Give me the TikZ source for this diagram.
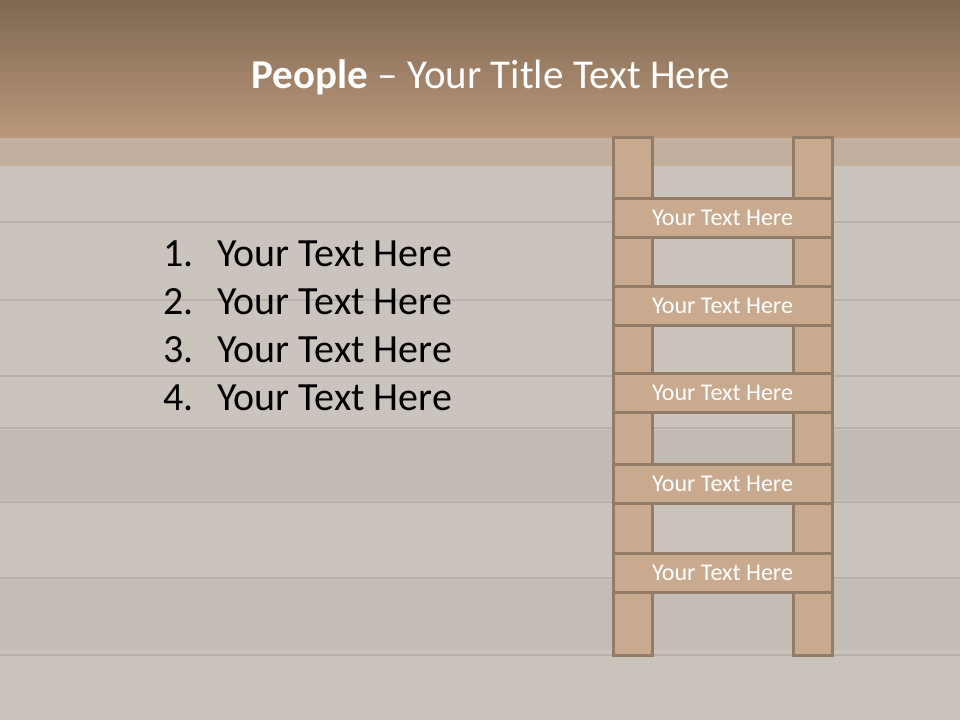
\documentclass[tikz,border=0pt]{standalone}
\usepackage{fontspec}
\setmainfont{Carlito}
\begin{document}
\begin{tikzpicture}[x=1pt,y=-1pt,
  rail/.style={fill=rungfill,draw=rungline,line width=3pt},
  rung/.style={fill=rungfill,draw=rungline,line width=3pt,minimum width=219pt,minimum height=39pt,inner sep=0pt,outer sep=0pt,anchor=north west,text=white,font=\fontsize{24}{28}\selectfont},
  item/.style={anchor=base west,font=\fontsize{40}{46}\selectfont,text=black,inner sep=0pt},
  seam/.style={line width=1.5pt,draw=woodseam}]
\definecolor{rungfill}{HTML}{C9AA8F}
\definecolor{rungline}{HTML}{927B67}
\definecolor{topA}{HTML}{7E6852}
\definecolor{topB}{HTML}{BA977A}
\definecolor{woodbase}{HTML}{CAC4BD}
\definecolor{woodseam}{HTML}{B8B0A8}
\definecolor{strip}{HTML}{C3AF9E}
\useasboundingbox (0,0) rectangle (960,720);
% background
\fill[woodbase] (0,0) rectangle (960,720);
\fill[woodseam!45!woodbase] (0,430) rectangle (960,500);
\fill[woodseam!40!woodbase] (0,580) rectangle (960,650);
\foreach \yy in {222,300,376,428,502,578,655}
  \draw[seam] (0,\yy) -- (960,\yy);
\fill[strip] (0,137) rectangle (960,166);
\shade[top color=topA,bottom color=topB] (0,0) rectangle (960,137);
% title
\node[anchor=base,text=white,font=\fontsize{41}{46}\selectfont,inner sep=0pt] (title) at (491,88) {\textbf{People} -- Your Title Text Here};
% list
\node[item] (n1) at (163,266) {1.};
\node[item] (t1) at (217,266) {Your Text Here};
\node[item] (n2) at (163,314) {2.};
\node[item] (t2) at (217,314) {Your Text Here};
\node[item] (n3) at (163,362) {3.};
\node[item] (t3) at (217,362) {Your Text Here};
\node[item] (n4) at (163,410) {4.};
\node[item] (t4) at (217,410) {Your Text Here};
% ladder rails
\draw[rail] (613,137) rectangle (652,655);
\draw[rail] (793,137) rectangle (832,655);
% rungs
\node[rung] (r1) at (613,198) {Your Text Here};
\node[rung] (r2) at (613,286) {Your Text Here};
\node[rung] (r3) at (613,373) {Your Text Here};
\node[rung] (r4) at (613,464) {Your Text Here};
\node[rung] (r5) at (613,553) {Your Text Here};
\end{tikzpicture}
\end{document}
